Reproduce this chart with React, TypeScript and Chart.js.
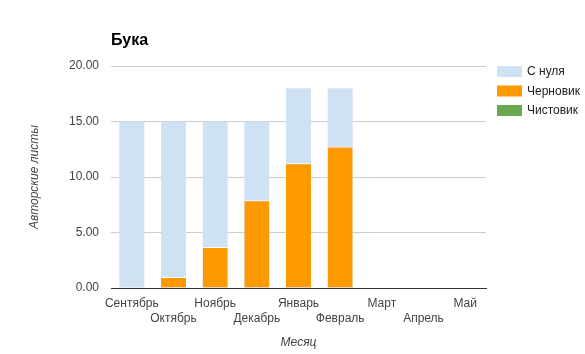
import React, { useEffect, useRef } from "react";
import { Chart, registerables } from "chart.js";

Chart.register(...registerables);

const chartTitle = "Бука";
const months = ["Сентябрь", "Октябрь", "Ноябрь", "Декабрь", "Январь", "Февраль", "Март", "Апрель", "Май"];
const seriesNames = ["С нуля", "Черновик", "Чистовик"];
const fromScratch = [15, 15, 15, 15, 18, 18, 0, 0, 0];
const draft = [0, 1, 3.7, 7.9, 11.25, 12.75, 0, 0, 0];
const clean = [0, 0, 0, 0, 0, 0, 0, 0, 0];
const yTicks = [0, 5, 10, 15, 20];
const yAxisTitle = "Авторские листы";
const xAxisTitle = "Месяц";

const colors = ["#cfe2f3", "#ff9900", "#6aa84f"];
const FONT = "'Liberation Sans', Arial, sans-serif";

const overlayPlugin = {
  id: "overlay",
  afterDraw(chart: any) {
    const { ctx, chartArea } = chart;
    ctx.save();
    ctx.fillStyle = "#000";
    ctx.font = `bold 16px ${FONT}`;
    ctx.textBaseline = "middle";
    ctx.textAlign = "left";
    ctx.fillText(chartTitle, chartArea.left, 41);
    // legend
    ctx.font = `12px ${FONT}`;
    chart.data.datasets.forEach((ds: any, i: number) => {
      const y = 66 + i * 19.5;
      ctx.fillStyle = ds.backgroundColor;
      ctx.fillRect(497, y, 25, 11);
      ctx.fillStyle = "#222";
      ctx.fillText(ds.label, 527, y + 6);
    });
    ctx.restore();
  },
};

export default function App() {
  const ref = useRef<HTMLCanvasElement>(null);
  useEffect(() => {
    if (!ref.current) return;
    const chart = new Chart(ref.current, {
      type: "bar",
      data: {
        labels: months,
        datasets: [
          { label: seriesNames[0], data: fromScratch, backgroundColor: colors[0], order: 2 },
          {
            label: seriesNames[1],
            data: draft,
            backgroundColor: colors[1],
            borderColor: "#ffffff",
            borderWidth: { top: 1, left: 0, right: 0, bottom: 0 },
            borderSkipped: false,
            order: 1,
          },
          { label: seriesNames[2], data: clean, backgroundColor: colors[2], order: 0 },
        ],
      },
      options: {
        animation: false,
        responsive: false,
        devicePixelRatio: 1,
        layout: { padding: { top: 66, right: 99, left: 0, bottom: 0 } },
        datasets: { bar: { barPercentage: 0.6, categoryPercentage: 1 } },
        plugins: {
          legend: { display: false },
          title: { display: false },
          tooltip: { enabled: false },
        },
        scales: {
          x: {
            stacked: true,
            grid: { display: false },
            border: { display: true, color: "#333", width: 1 },
            ticks: {
              autoSkip: false,
              maxRotation: 0,
              padding: 0,
              color: "#444",
              font: { family: FONT, size: 12, lineHeight: 1.28 },
              callback: (_v: any, i: number) => (i % 2 === 0 ? [months[i]] : ["", months[i]]),
            },
            title: {
              display: true,
              text: xAxisTitle,
              color: "#444",
              font: { family: FONT, size: 12, style: "italic" },
              padding: { top: 0, bottom: 4 },
            },
            afterFit: (s: any) => {
              s.height = 66;
            },
          },
          y: {
            stacked: false,
            min: yTicks[0],
            max: yTicks[yTicks.length - 1],
            grid: { color: "#cccccc", drawTicks: false },
            border: { display: false },
            afterBuildTicks: (s: any) => {
              s.ticks = yTicks.map((v) => ({ value: v }));
            },
            ticks: {
              padding: 12,
              color: "#444",
              font: { family: FONT, size: 12 },
              callback: (v: any) => Number(v).toFixed(2),
            },
            title: {
              display: true,
              text: yAxisTitle,
              color: "#444",
              font: { family: FONT, size: 12, style: "italic" },
              padding: { top: 27, bottom: 0 },
            },
            afterFit: (s: any) => {
              s.width = 111;
            },
          },
        },
      },
      plugins: [overlayPlugin],
    });
    return () => chart.destroy();
  }, []);
  return (
    <div style={{ position: "fixed", left: 0, top: 0, width: 585, height: 354, background: "#fff" }}>
      <canvas ref={ref} width={585} height={354} style={{ width: 585, height: 354 }} />
    </div>
  );
}
